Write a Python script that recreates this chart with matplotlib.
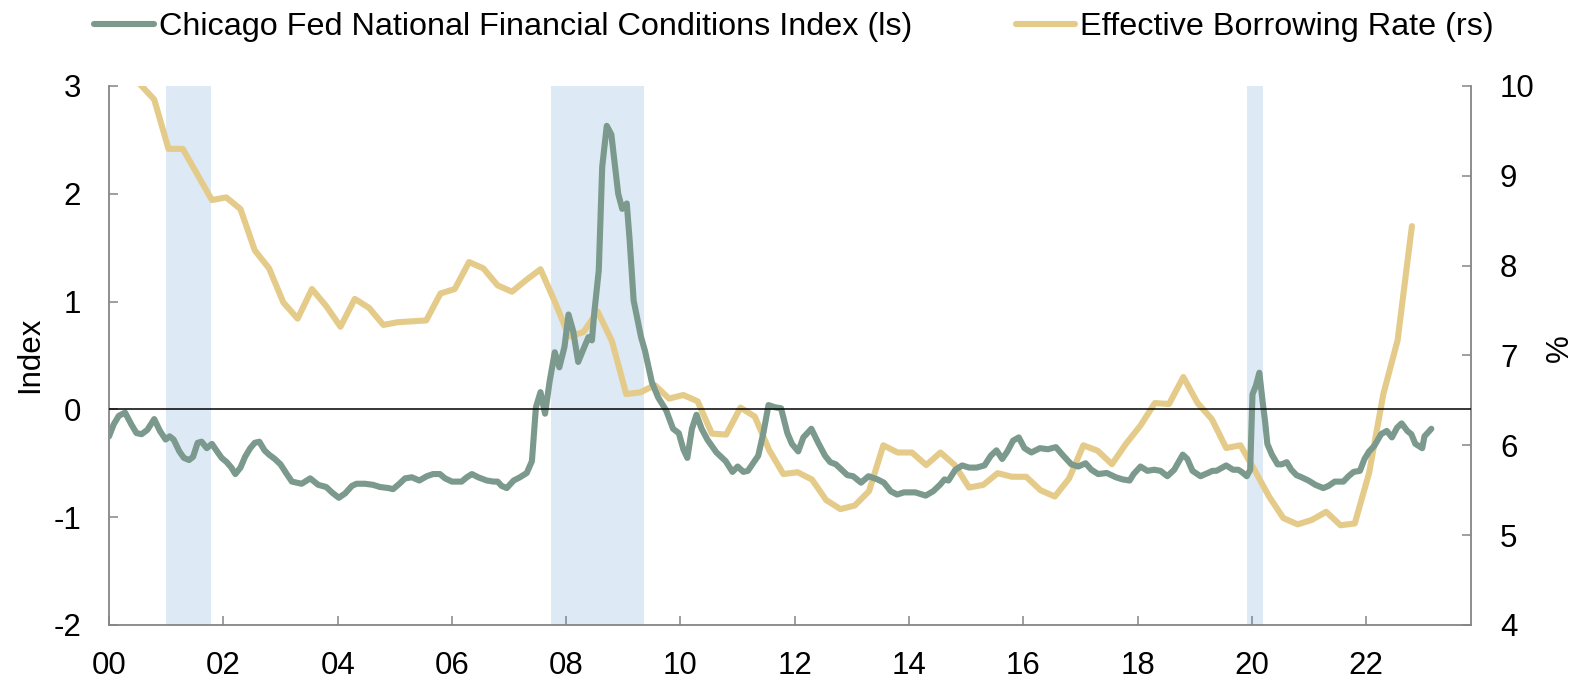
import matplotlib
matplotlib.use("Agg")
import matplotlib.pyplot as plt
from matplotlib.lines import Line2D

plt.rcParams['font.family'] = ['Liberation Sans', 'DejaVu Sans']
plt.rcParams['axes.unicode_minus'] = False

# ---------------- data (decimal years) ----------------
nfci_t = [2000.00, 2000.08, 2000.17, 2000.28, 2000.39, 2000.48, 2000.57, 2000.67, 2000.79, 2000.89,
          2000.99, 2001.06, 2001.13, 2001.23, 2001.31, 2001.40, 2001.47, 2001.55, 2001.62, 2001.71,
          2001.80, 2001.89, 2001.97, 2002.06, 2002.14, 2002.21, 2002.30, 2002.38, 2002.47, 2002.55,
          2002.63, 2002.72, 2002.80, 2002.90, 2003.00, 2003.11, 2003.20, 2003.37, 2003.52, 2003.66,
          2003.80, 2003.90, 2004.02, 2004.13, 2004.25, 2004.33, 2004.48, 2004.62, 2004.74, 2004.89,
          2004.97, 2005.08, 2005.18, 2005.30, 2005.43, 2005.56, 2005.67, 2005.79, 2005.88, 2006.00,
          2006.17, 2006.26, 2006.35, 2006.46, 2006.61, 2006.73, 2006.80, 2006.87, 2006.96, 2007.08,
          2007.19, 2007.31, 2007.40, 2007.47, 2007.55, 2007.63, 2007.71, 2007.80, 2007.88, 2007.97,
          2008.04, 2008.12, 2008.21, 2008.31, 2008.39, 2008.45, 2008.49, 2008.57, 2008.63, 2008.71,
          2008.79, 2008.91, 2008.98, 2009.06, 2009.11, 2009.18, 2009.31, 2009.38, 2009.50, 2009.61,
          2009.75, 2009.87, 2009.97, 2010.05, 2010.12, 2010.20, 2010.28, 2010.37, 2010.47, 2010.63,
          2010.79, 2010.91, 2011.00, 2011.10, 2011.18, 2011.36, 2011.45, 2011.54, 2011.65, 2011.76,
          2011.87, 2011.95, 2012.06, 2012.15, 2012.29, 2012.41, 2012.53, 2012.62, 2012.72, 2012.82,
          2012.92, 2013.02, 2013.16, 2013.29, 2013.45, 2013.56, 2013.68, 2013.79, 2013.91, 2014.11,
          2014.29, 2014.42, 2014.54, 2014.62, 2014.69, 2014.81, 2014.93, 2015.05, 2015.18, 2015.32,
          2015.43, 2015.53, 2015.63, 2015.72, 2015.82, 2015.92, 2016.02, 2016.14, 2016.29, 2016.43,
          2016.57, 2016.70, 2016.84, 2016.96, 2017.09, 2017.19, 2017.31, 2017.46, 2017.62, 2017.74,
          2017.86, 2017.93, 2018.05, 2018.17, 2018.29, 2018.40, 2018.52, 2018.64, 2018.79, 2018.87,
          2018.96, 2019.10, 2019.23, 2019.31, 2019.38, 2019.55, 2019.67, 2019.76, 2019.82, 2019.91,
          2019.97, 2020.01, 2020.07, 2020.13, 2020.19, 2020.23, 2020.27, 2020.35, 2020.45, 2020.52,
          2020.61, 2020.69, 2020.78, 2020.87, 2020.99, 2021.11, 2021.25, 2021.34, 2021.45, 2021.60,
          2021.69, 2021.78, 2021.89, 2021.97, 2022.05, 2022.14, 2022.26, 2022.36, 2022.45, 2022.54,
          2022.62, 2022.72, 2022.79, 2022.86, 2022.98, 2023.02, 2023.14]
nfci_v = [-0.25, -0.14, -0.06, -0.03, -0.14, -0.22, -0.23, -0.19, -0.09, -0.20,
          -0.28, -0.25, -0.28, -0.39, -0.45, -0.47, -0.44, -0.31, -0.30, -0.36,
          -0.32, -0.39, -0.45, -0.49, -0.54, -0.60, -0.54, -0.44, -0.36, -0.31,
          -0.30, -0.38, -0.42, -0.46, -0.51, -0.60, -0.67, -0.69, -0.64, -0.70,
          -0.72, -0.77, -0.82, -0.78, -0.71, -0.69, -0.69, -0.70, -0.72, -0.73,
          -0.74, -0.69, -0.64, -0.63, -0.66, -0.62, -0.60, -0.60, -0.64, -0.67,
          -0.67, -0.63, -0.60, -0.63, -0.66, -0.67, -0.67, -0.71, -0.73, -0.66,
          -0.63, -0.59, -0.48, 0.02, 0.16, -0.04, 0.26, 0.53, 0.39, 0.58,
          0.88, 0.73, 0.44, 0.57, 0.67, 0.64, 0.89, 1.29, 2.25, 2.63,
          2.55, 2.00, 1.86, 1.91, 1.57, 1.01, 0.67, 0.54, 0.25, 0.11,
          -0.01, -0.18, -0.22, -0.37, -0.45, -0.18, -0.05, -0.18, -0.28, -0.40,
          -0.48, -0.58, -0.53, -0.58, -0.57, -0.43, -0.22, 0.04, 0.02, 0.01,
          -0.22, -0.32, -0.39, -0.26, -0.18, -0.31, -0.43, -0.49, -0.51, -0.56,
          -0.61, -0.62, -0.68, -0.62, -0.65, -0.68, -0.76, -0.79, -0.77, -0.77,
          -0.80, -0.76, -0.70, -0.65, -0.66, -0.56, -0.52, -0.54, -0.54, -0.52,
          -0.43, -0.38, -0.46, -0.39, -0.29, -0.26, -0.36, -0.40, -0.36, -0.37,
          -0.35, -0.43, -0.51, -0.53, -0.50, -0.56, -0.60, -0.59, -0.63, -0.65,
          -0.66, -0.60, -0.53, -0.57, -0.56, -0.57, -0.62, -0.56, -0.42, -0.46,
          -0.57, -0.62, -0.59, -0.57, -0.57, -0.52, -0.56, -0.56, -0.58, -0.62,
          -0.56, 0.14, 0.22, 0.34, 0.06, -0.11, -0.32, -0.42, -0.51, -0.51,
          -0.49, -0.56, -0.61, -0.63, -0.66, -0.70, -0.73, -0.71, -0.67, -0.67,
          -0.62, -0.58, -0.57, -0.46, -0.39, -0.34, -0.23, -0.20, -0.26, -0.17,
          -0.13, -0.20, -0.23, -0.32, -0.36, -0.25, -0.18]

rate_t = [2000.54, 2000.79, 2001.04, 2001.29, 2001.80, 2002.05, 2002.30, 2002.55, 2002.80, 2003.05,
          2003.30, 2003.55, 2003.80, 2004.05, 2004.30, 2004.55, 2004.80, 2005.05, 2005.30, 2005.55,
          2005.80, 2006.05, 2006.30, 2006.55, 2006.80, 2007.05, 2007.30, 2007.55, 2007.80, 2008.05,
          2008.30, 2008.55, 2008.80, 2009.05, 2009.30, 2009.55, 2009.80, 2010.05, 2010.30, 2010.55,
          2010.80, 2011.05, 2011.30, 2011.55, 2011.80, 2012.05, 2012.30, 2012.55, 2012.80, 2013.05,
          2013.30, 2013.55, 2013.80, 2014.05, 2014.30, 2014.55, 2014.80, 2015.05, 2015.30, 2015.55,
          2015.80, 2016.05, 2016.30, 2016.55, 2016.80, 2017.05, 2017.30, 2017.55, 2017.80, 2018.05,
          2018.30, 2018.55, 2018.80, 2019.05, 2019.30, 2019.55, 2019.80, 2020.05, 2020.30, 2020.55,
          2020.80, 2021.05, 2021.30, 2021.55, 2021.80, 2022.05, 2022.30, 2022.55, 2022.80]
rate_v = [10.02, 9.85, 9.30, 9.30, 8.73, 8.76, 8.63, 8.17, 7.97, 7.59,
          7.41, 7.74, 7.55, 7.32, 7.63, 7.53, 7.34, 7.37, 7.38, 7.39,
          7.69, 7.74, 8.04, 7.97, 7.78, 7.71, 7.84, 7.96, 7.60, 7.21,
          7.26, 7.49, 7.16, 6.57, 6.59, 6.67, 6.52, 6.56, 6.49, 6.13,
          6.12, 6.42, 6.32, 5.95, 5.68, 5.70, 5.62, 5.39, 5.29, 5.33,
          5.49, 6.00, 5.92, 5.92, 5.78, 5.92, 5.78, 5.53, 5.56, 5.69,
          5.65, 5.65, 5.50, 5.43, 5.63, 6.00, 5.94, 5.79, 6.02, 6.22,
          6.47, 6.46, 6.76, 6.47, 6.29, 5.97, 6.00, 5.72, 5.43, 5.19,
          5.12, 5.17, 5.26, 5.11, 5.13, 5.69, 6.57, 7.17, 8.44]

recession_start = [2001.00, 2007.74, 2019.91]
recession_end = [2001.79, 2009.36, 2020.19]

xtick_years = list(range(2000, 2023, 2))
xtick_labels = ['00', '02', '04', '06', '08', '10', '12', '14', '16', '18', '20', '22']
left_ticks = [-2, -1, 0, 1, 2, 3]
right_ticks = [4, 5, 6, 7, 8, 9, 10]

labels = ['Chicago Fed National Financial Conditions Index (ls)', 'Effective Borrowing Rate (rs)']

# ---------------- style ----------------
GREEN = '#7b998d'
GOLD = '#e5cb89'
SHADE = '#dde9f5'
GRAY = '#858585'
FS = 22.5
LW = 4.4

fig = plt.figure(figsize=(15.83, 6.78), dpi=100)
ax = fig.add_axes([0.0689, 0.0782, 0.8602, 0.7950])
ax2 = ax.twinx()
ax.set_zorder(ax2.get_zorder() + 1)
ax.patch.set_visible(False)

for s, e in zip(recession_start, recession_end):
    ax2.axvspan(s, e, color=SHADE, lw=0, zorder=0)

ax2.plot(rate_t, rate_v, color=GOLD, lw=LW, solid_capstyle='round', solid_joinstyle='round', zorder=2)
ax.plot(nfci_t, nfci_v, color=GREEN, lw=LW, solid_capstyle='round', solid_joinstyle='round', zorder=3)
ax.axhline(0, color='black', lw=1.1, zorder=5)

ax.set_xlim(2000, 2023.83)
ax.set_ylim(-2, 3)
ax2.set_ylim(4, 10)

ax.set_xticks(xtick_years)
ax.set_xticklabels(xtick_labels)
ax.set_yticks(left_ticks)
ax2.set_yticks(right_ticks)

for a in (ax, ax2):
    a.spines['top'].set_visible(False)
    for sp in a.spines.values():
        sp.set_color(GRAY)
        sp.set_linewidth(1.3)
ax.spines['right'].set_visible(False)
ax2.spines['left'].set_visible(False)
ax2.spines['bottom'].set_visible(False)

ax.tick_params(axis='x', direction='in', length=6.5, width=1.1, color=GRAY, labelsize=FS, pad=18.5)
ax.tick_params(axis='y', direction='in', length=6.5, width=1.1, color=GRAY, labelsize=FS, pad=20)
ax2.tick_params(axis='y', direction='in', length=6.5, width=1.1, color=GRAY, labelsize=FS, pad=21)

fig.text(30 / 1583, 0.476, 'Index', rotation=90, ha='center', va='center', fontsize=FS)
fig.text(1560 / 1583, 0.486, '%', rotation=90, ha='center', va='center', fontsize=FS)

handles = [Line2D([], [], color=GREEN, lw=LW, solid_capstyle='round'),
           Line2D([], [], color=GOLD, lw=LW, solid_capstyle='round')]
fig.legend(handles, labels, loc='center left', bbox_to_anchor=(94 / 1583, 0.96), ncol=2,
           frameon=False, fontsize=23.3, handlelength=1.85, handletextpad=0.15,
           columnspacing=3.2, borderpad=0, borderaxespad=0)

fig.savefig('out.png', dpi=100)
